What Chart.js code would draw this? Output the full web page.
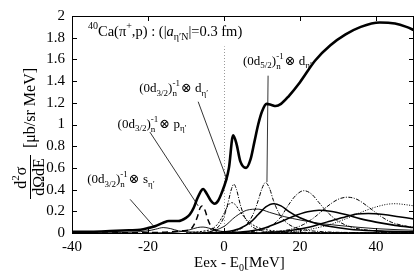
<!DOCTYPE html>
<html>
<head>
<meta charset="utf-8">
<script src="https://cdn.jsdelivr.net/npm/chart.js@4/dist/chart.umd.min.js"></script>
<style>
html, body { margin: 0; padding: 0; background: #fff; }
#wrap { width: 415px; height: 271px; }
</style>
</head>
<body>
<div id="wrap"><canvas id="c" width="415" height="271"></canvas></div>
<script>
// datos (E en MeV, seccion eficaz en ub/sr MeV)
const xTickVals = [-40, -20, 0, 20, 40];
const xTickLabels = ['-40', '-20', '0', '20', '40'];
const yTickVals = [0, 0.2, 0.4, 0.6, 0.8, 1, 1.2, 1.4, 1.6, 1.8, 2];
const yTickLabels = ['0', '0.2', '0.4', '0.6', '0.8', '1', '1.2', '1.4', '1.6', '1.8', '2'];

// total (linea gruesa)
const totalE = [-40, -35, -30, -25, -22, -20, -18, -16, -14.5, -12, -10, -9, -8, -7, -6, -5.5, -4.5, -3.5, -2.5, -1.5, -0.5, 0.5, 1.3, 2.4, 3.3, 4.3, 5.8, 7, 8, 9, 10, 11.2, 12.5, 13.6, 15, 17, 20, 24, 28, 32, 36, 41, 45, 48, 50];
const totalY = [0.01, 0.012, 0.018, 0.025, 0.03, 0.045, 0.065, 0.095, 0.11, 0.11, 0.14, 0.17, 0.23, 0.32, 0.39, 0.405, 0.36, 0.3, 0.27, 0.3, 0.38, 0.48, 0.6, 0.9, 0.82, 0.66, 0.6, 0.68, 0.84, 1.0, 1.12, 1.19, 1.18, 1.17, 1.19, 1.26, 1.39, 1.59, 1.73, 1.83, 1.9, 1.94, 1.93, 1.9, 1.87];

// (0d3/2)^-1 x s
const sE = [-40, -30, -24, -20, -18, -16, -14, -12, -9, -5, 0, 10, 50];
const sY = [0, 0.002, 0.008, 0.02, 0.035, 0.05, 0.04, 0.02, 0.01, 0.005, 0.003, 0.001, 0];

// pequeño, solido fino
const smallE = [-20, -12, -9, -7, -5.5, -4, -2, 0, 4, 10];
const smallY = [0, 0.01, 0.03, 0.05, 0.055, 0.045, 0.025, 0.012, 0.004, 0];

// (0d3/2)^-1 x p (rayas)
const pE = [-40, -20, -14, -11, -9, -8, -7, -6.3, -5.8, -5, -4.2, -3.2, -2, 0, 3, 10, 50];
const pY = [0, 0.004, 0.01, 0.02, 0.03, 0.07, 0.15, 0.23, 0.25, 0.21, 0.12, 0.05, 0.02, 0.01, 0.004, 0, 0];

// (0d3/2)^-1 x d
const dE = [-10, -4, -2, -1, 0, 1, 2, 2.6, 3.3, 4.3, 5.5, 7, 9, 12, 20, 50];
const dY = [0, 0.01, 0.04, 0.08, 0.15, 0.27, 0.41, 0.45, 0.4, 0.26, 0.14, 0.07, 0.03, 0.01, 0.003, 0];

const c3E = [-10, -5, -3, -1.5, 0, 1, 2, 3, 4, 5.5, 7, 9, 12, 18, 30, 50];
const c3Y = [0, 0.02, 0.04, 0.09, 0.18, 0.25, 0.28, 0.26, 0.21, 0.14, 0.09, 0.05, 0.025, 0.01, 0.003, 0];

// (0d5/2)^-1 x d
const d5E = [0, 3, 5, 6.5, 8, 9, 10, 10.9, 12, 13, 14.5, 16, 18, 21, 26, 35, 50];
const d5Y = [0.005, 0.02, 0.05, 0.1, 0.2, 0.3, 0.41, 0.465, 0.41, 0.3, 0.18, 0.11, 0.06, 0.03, 0.012, 0.004, 0];

const c7E = [-5, 0, 4, 7, 9, 11, 13, 15, 17, 20, 24, 28, 33, 40, 50];
const c7Y = [0, 0.01, 0.04, 0.1, 0.17, 0.24, 0.27, 0.25, 0.2, 0.14, 0.09, 0.06, 0.035, 0.02, 0.01];

const c8E = [5, 10, 13, 15, 17, 19, 21, 23, 25, 27, 30, 34, 40, 50];
const c8Y = [0.005, 0.03, 0.08, 0.15, 0.26, 0.35, 0.39, 0.36, 0.28, 0.2, 0.11, 0.05, 0.02, 0.005];

const c9E = [10, 17, 21, 24, 27, 30, 32.5, 35, 38, 41, 44, 47, 50];
const c9Y = [0.005, 0.03, 0.08, 0.15, 0.24, 0.31, 0.33, 0.31, 0.24, 0.16, 0.1, 0.07, 0.05];

const c10E = [15, 22, 28, 32, 36, 40, 43, 45, 48, 50];
const c10Y = [0.005, 0.03, 0.08, 0.13, 0.19, 0.24, 0.265, 0.27, 0.26, 0.25];

const c11E = [0, 5, 10, 14, 18, 22, 25, 28, 32, 36, 40, 45, 50];
const c11Y = [0, 0.01, 0.04, 0.09, 0.15, 0.195, 0.21, 0.2, 0.17, 0.13, 0.1, 0.07, 0.05];

const c12E = [10, 17, 22, 27, 31, 35, 38, 42, 46, 50];
const c12Y = [0, 0.02, 0.05, 0.1, 0.14, 0.175, 0.18, 0.17, 0.15, 0.13];

const c13E = [-5, 0, 3, 6, 9, 12, 16, 20, 25, 30, 40, 50];
const c13Y = [0, 0.06, 0.15, 0.21, 0.22, 0.19, 0.15, 0.12, 0.09, 0.07, 0.04, 0.025];

const FONT = '"Liberation Serif", "DejaVu Serif", serif';
const DASH_DOT = [4, 1.5, 1, 1.5];

function toPoints(es, ys) {
    return es.map((e, i) => ({ x: e, y: ys[i] }));
}

function makeDs(label, es, ys, width, dash) {
    return {
        label,
        data: toPoints(es, ys),
        borderColor: '#000',
        borderWidth: width,
        borderDash: dash || [],
        pointRadius: 0,
        fill: false,
        cubicInterpolationMode: 'monotone',
    };
}

// texto con sub/superindices: tipos n normal, i italica, b sub, p sup, s apilado [sup, sub]
function drawRuns(ctx, x, y, runs, size) {
    const small = Math.round(size * 0.68);
    let cx = x;
    runs.forEach(r => {
        const kind = r[0];
        if (kind === 'n' || kind === 'i') {
            ctx.font = (kind === 'i' ? 'italic ' : '') + size + 'px ' + FONT;
            ctx.fillText(r[1], cx, y);
            cx += ctx.measureText(r[1]).width;
        } else if (kind === 'b' || kind === 'p') {
            ctx.font = small + 'px ' + FONT;
            ctx.fillText(r[1], cx, kind === 'b' ? y + size * 0.28 : y - size * 0.42);
            cx += ctx.measureText(r[1]).width;
        } else if (kind === 's') {
            ctx.font = small + 'px ' + FONT;
            ctx.fillText(r[1], cx, y - size * 0.45);
            ctx.fillText(r[2], cx, y + size * 0.3);
            cx += Math.max(ctx.measureText(r[1]).width, ctx.measureText(r[2]).width) + 1;
        }
    });
    return cx - x;
}

const labelS = [['n', '(0d'], ['b', '3/2'], ['n', ')'], ['s', '-1', 'n'], ['n', '\u2297 s'], ['b', '\u03b7\u2032']];
const labelP = [['n', '(0d'], ['b', '3/2'], ['n', ')'], ['s', '-1', 'n'], ['n', '\u2297 p'], ['b', '\u03b7\u2032']];
const labelD = [['n', '(0d'], ['b', '3/2'], ['n', ')'], ['s', '-1', 'n'], ['n', '\u2297 d'], ['b', '\u03b7\u2032']];
const labelD5 = [['n', '(0d'], ['b', '5/2'], ['n', ')'], ['s', '-1', 'n'], ['n', '\u2297 d'], ['b', '\u03b7\u2032']];
const titleRuns = [['p', '40'], ['n', 'Ca(\u03c0'], ['p', '+'], ['n', ',p) : (|'], ['i', 'a'], ['b', '\u03b7\u2032N'], ['n', '|=0.3 fm)']];

// etiquetas: posicion del texto y linea guia en coordenadas de datos
const annotations = [
    { runs: labelS, at: [-36, 0.46], line: [[-24.7, 0.31], [-18.2, 0.05]] },
    { runs: labelP, at: [-28, 0.97], line: [[-19.5, 0.93], [-6.8, 0.25]] },
    { runs: labelD, at: [-22.3, 1.3], line: [[-6.8, 1.21], [0.8, 0.49]] },
    { runs: labelD5, at: [5, 1.55], line: [[11.6, 1.45], [11.3, 0.47]] },
];

const framePlugin = {
    id: 'frame',
    beforeDatasetsDraw(chart) {
        const { ctx, scales: { x, y } } = chart;
        // linea punteada en E = 0
        ctx.save();
        ctx.strokeStyle = '#999';
        ctx.lineWidth = 1;
        ctx.setLineDash([1, 2]);
        ctx.beginPath();
        ctx.moveTo(Math.round(x.getPixelForValue(0)) + 0.5, y.getPixelForValue(0));
        ctx.lineTo(Math.round(x.getPixelForValue(0)) + 0.5, y.getPixelForValue(1.72));
        ctx.stroke();
        ctx.restore();
    },
    afterDraw(chart) {
        const { ctx, chartArea: a, scales: { x, y } } = chart;
        ctx.save();
        ctx.strokeStyle = '#000';
        ctx.lineWidth = 1;
        ctx.strokeRect(a.left + 0.5, a.top + 0.5, a.right - a.left - 1, a.bottom - a.top);
        // ticks hacia adentro
        ctx.beginPath();
        xTickVals.forEach(v => {
            const px = Math.round(x.getPixelForValue(v)) + 0.5;
            ctx.moveTo(px, a.bottom); ctx.lineTo(px, a.bottom - 5);
            ctx.moveTo(px, a.top); ctx.lineTo(px, a.top + 5);
        });
        yTickVals.forEach(v => {
            const py = Math.round(y.getPixelForValue(v)) + 0.5;
            ctx.moveTo(a.left, py); ctx.lineTo(a.left + 5, py);
            ctx.moveTo(a.right, py); ctx.lineTo(a.right - 5, py);
        });
        ctx.stroke();

        ctx.fillStyle = '#000';
        ctx.textBaseline = 'alphabetic';
        ctx.textAlign = 'left';
        drawRuns(ctx, x.getPixelForValue(-35.8), y.getPixelForValue(1.82), titleRuns, 14.5);

        annotations.forEach(an => {
            drawRuns(ctx, x.getPixelForValue(an.at[0]), y.getPixelForValue(an.at[1]), an.runs, 13);
            ctx.lineWidth = 0.8;
            ctx.beginPath();
            ctx.moveTo(x.getPixelForValue(an.line[0][0]), y.getPixelForValue(an.line[0][1]));
            ctx.lineTo(x.getPixelForValue(an.line[1][0]), y.getPixelForValue(an.line[1][1]));
            ctx.stroke();
        });

        // titulo eje x
        const xt = [['n', 'Eex - E'], ['b', '0'], ['n', '[MeV]']];
        drawRuns(ctx, 194, 267, xt, 15);

        // titulo eje y (rotado)
        ctx.translate(30, 177);
        ctx.rotate(-Math.PI / 2);
        ctx.textAlign = 'center';
        ctx.font = '16px ' + FONT;
        ctx.fillText('dΩdE', 0, 14);
        ctx.lineWidth = 1;
        ctx.beginPath();
        ctx.moveTo(-22, 0.5); ctx.lineTo(22, 0.5);
        ctx.stroke();
        ctx.textAlign = 'left';
        ctx.font = '16px ' + FONT;
        const numW = ctx.measureText('dσ').width + 7;
        drawRuns(ctx, -numW / 2, -4, [['n', 'd'], ['p', '2'], ['n', 'σ']], 16);
        ctx.textAlign = 'center';
        ctx.font = '16px ' + FONT;
        ctx.fillText('[\u03bcb/sr MeV]', 69, 5);
        ctx.restore();
    }
};

const datasets = [
    makeDs('c13', c13E, c13Y, 0.9),
    makeDs('c12', c12E, c12Y, 1.5),
    makeDs('c11', c11E, c11Y, 1.6),
    makeDs('c10', c10E, c10Y, 1, [1, 1.5]),
    makeDs('c9', c9E, c9Y, 1, DASH_DOT),
    makeDs('c8', c8E, c8Y, 1, DASH_DOT),
    makeDs('c7', c7E, c7Y, 1.6),
    makeDs('d52', d5E, d5Y, 1, DASH_DOT),
    makeDs('c3', c3E, c3Y, 1, [2, 1.5]),
    makeDs('d32', dE, dY, 1, DASH_DOT),
    makeDs('p32', pE, pY, 1.5, [6, 4]),
    makeDs('small', smallE, smallY, 0.9),
    makeDs('s32', sE, sY, 0.9),
    makeDs('total', totalE, totalY, 2.6),
];

new Chart(document.getElementById('c').getContext('2d'), {
    type: 'line',
    data: { datasets },
    options: {
        responsive: false,
        animation: false,
        devicePixelRatio: 1,
        layout: { padding: { top: 6, right: 1, left: 0, bottom: 0 } },
        plugins: { legend: { display: false }, tooltip: { enabled: false } },
        scales: {
            x: {
                type: 'linear',
                min: -40,
                max: 50,
                grid: { display: false, drawTicks: false },
                border: { display: false },
                afterBuildTicks: scale => { scale.ticks = xTickVals.map(v => ({ value: v })); },
                afterFit: scale => { scale.height = 38; },
                ticks: {
                    padding: 5,
                    maxRotation: 0,
                    color: '#000',
                    font: { family: FONT, size: 15 },
                    callback: (v, i) => xTickLabels[i],
                },
            },
            y: {
                type: 'linear',
                min: 0,
                max: 2,
                grid: { display: false, drawTicks: false },
                border: { display: false },
                afterBuildTicks: scale => { scale.ticks = yTickVals.map(v => ({ value: v })); },
                afterFit: scale => { scale.width = 72; },
                ticks: {
                    padding: 7,
                    color: '#000',
                    font: { family: FONT, size: 15 },
                    callback: (v, i) => yTickLabels[i],
                },
            },
        },
    },
    plugins: [framePlugin],
});
</script>
</body>
</html>
